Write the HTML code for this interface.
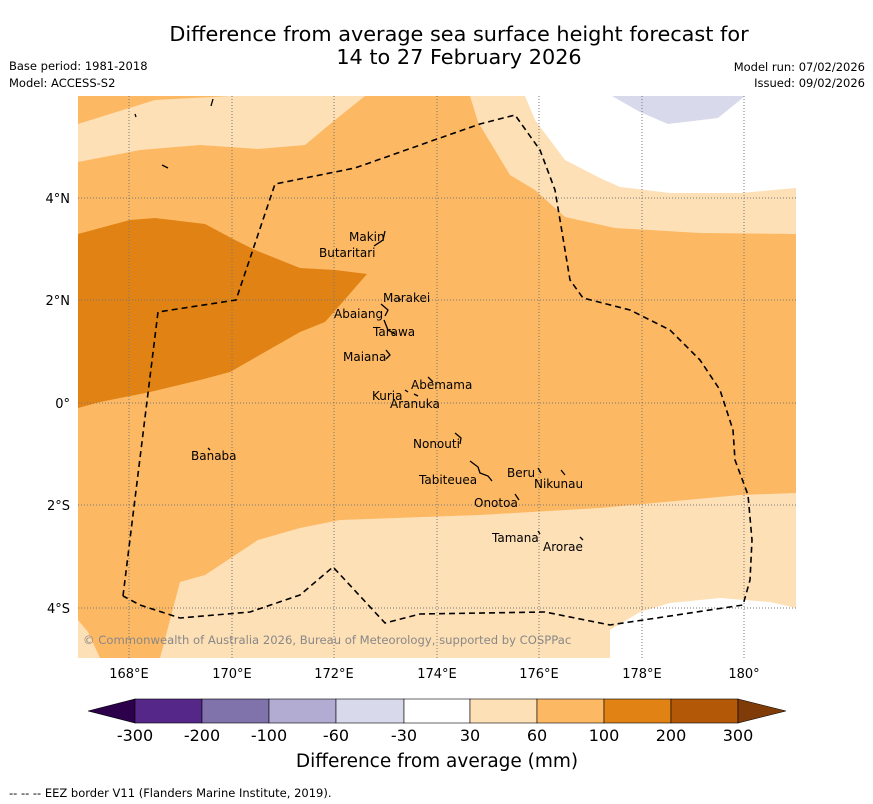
<!DOCTYPE html>
<html><head><meta charset="utf-8"><style>
body{margin:0;background:#fff;font-family:"DejaVu Sans","Liberation Sans",sans-serif;}
svg{display:block}
</style></head><body>
<svg width="873" height="804" viewBox="0 0 873 804" xmlns="http://www.w3.org/2000/svg" font-family="DejaVu Sans, Liberation Sans, sans-serif">
<text x="459" y="41" font-size="20.8" text-anchor="middle">Difference from average sea surface height forecast for</text>
<text x="459" y="64" font-size="20.8" text-anchor="middle">14 to 27 February 2026</text>
<text x="9" y="70" font-size="11.5">Base period: 1981-2018</text>
<text x="9" y="87" font-size="11.5">Model: ACCESS-S2</text>
<text x="865" y="71" font-size="11.5" text-anchor="end">Model run: 07/02/2026</text>
<text x="865" y="87" font-size="11.5" text-anchor="end">Issued: 09/02/2026</text>
<defs><clipPath id="mc"><rect x="78" y="96" width="718" height="562"/></clipPath></defs>
<g clip-path="url(#mc)">
<rect x="78" y="96" width="718" height="562" fill="#fdb863"/>
<polygon fill="#fee0b6" points="78,124 155,100 230,96 365,96 335,120 305,145 258,149 200,145 140,150 78,162"/>
<polygon fill="#fee0b6" points="470,96 478,122 510,175 535,190 565,217 615,228 700,233 796,234 796,96"/>
<polygon fill="#ffffff" points="525,96 535,120 565,160 600,178 620,187 670,193 740,193 796,188 796,96"/>
<polygon fill="#d8daeb" points="612,96 745,96 718,118 668,124 640,112"/>
<polygon fill="#e08214" points="78,234 130,220 155,218 205,224 235,240 255,250 300,268 335,270 367,274 340,305 325,322 300,332 230,372 200,380 150,392 100,402 78,408"/>
<polygon fill="#fee0b6" points="796,493 740,495 600,508 480,515 340,520 300,528 258,540 205,575 180,582 160,658 796,658"/>
<polygon fill="#fee0b6" points="78,620 88,632 100,658 78,658"/>
<polygon fill="#ffffff" points="610,658 610,630 640,612 670,603 720,598 770,602 796,608 796,658"/>
<g stroke="#777" stroke-width="1" stroke-dasharray="1,2">
<line x1="129" y1="96" x2="129" y2="658"/><line x1="232" y1="96" x2="232" y2="658"/><line x1="334" y1="96" x2="334" y2="658"/><line x1="437" y1="96" x2="437" y2="658"/><line x1="539" y1="96" x2="539" y2="658"/><line x1="642" y1="96" x2="642" y2="658"/><line x1="744" y1="96" x2="744" y2="658"/>
<line x1="78" y1="198" x2="796" y2="198"/><line x1="78" y1="300" x2="796" y2="300"/><line x1="78" y1="403" x2="796" y2="403"/><line x1="78" y1="505" x2="796" y2="505"/><line x1="78" y1="608" x2="796" y2="608"/>
</g>
<polyline fill="none" stroke="#000" stroke-width="1.6" stroke-dasharray="6,4" points="123,596 158,312 236,300 275,184 355,168 440,138 480,124 515,115 540,150 555,190 570,280 583,298 630,310 670,330 700,360 720,390 733,430 735,460 748,495 752,540 750,580 743,605 610,625 545,612 420,614 385,623 333,567 300,595 250,612 180,618 140,605 123,596"/>
<g stroke="#000" stroke-width="1.3" fill="none">
<path d="M385,231 L383,240 L374,246"/><path d="M381,304 L388,310 L385,316"/><path d="M384,320 L388,330 L395,334"/><path d="M386,350 L390,355 L386,359"/>
<path d="M428,377 L433,382"/><path d="M405,390 L408,392"/><path d="M414,394 L418,396"/><path d="M455,433 L461,438 L460,444"/>
<path d="M470,461 L478,467 L480,473 L488,476 L492,481"/><path d="M538,468 L541,473"/><path d="M561,470 L565,475"/><path d="M515,494 L519,500"/>
<path d="M538,531 L540,534"/><path d="M580,537 L583,540"/><path d="M208,448 L210,450"/><path d="M213,99 L211,106"/><path d="M135,114 L136,117"/><path d="M162,165 L168,168"/><path d="M398,298 L401,300"/>
</g>
<g font-size="12" fill="#000">
<text x="349" y="241">Makin</text><text x="319" y="257">Butaritari</text><text x="383" y="302">Marakei</text><text x="334" y="318">Abaiang</text><text x="373" y="336">Tarawa</text><text x="343" y="361">Maiana</text><text x="411" y="389">Abemama</text><text x="372" y="400">Kuria</text><text x="390" y="408">Aranuka</text><text x="413" y="448">Nonouti</text><text x="507" y="477">Beru</text><text x="534" y="488">Nikunau</text><text x="419" y="484">Tabiteuea</text><text x="474" y="507">Onotoa</text><text x="492" y="542">Tamana</text><text x="543" y="551">Arorae</text><text x="191" y="460">Banaba</text>
</g>
<text x="83" y="644" font-size="11.6" fill="#888">© Commonwealth of Australia 2026, Bureau of Meteorology, supported by COSPPac</text>
</g>
<g font-size="13" fill="#000">
<text x="70" y="203" text-anchor="end">4°N</text><text x="70" y="305" text-anchor="end">2°N</text><text x="70" y="408" text-anchor="end">0°</text><text x="70" y="510" text-anchor="end">2°S</text><text x="70" y="613" text-anchor="end">4°S</text>
<text x="129" y="678" text-anchor="middle">168°E</text><text x="232" y="678" text-anchor="middle">170°E</text><text x="334" y="678" text-anchor="middle">172°E</text><text x="437" y="678" text-anchor="middle">174°E</text><text x="539" y="678" text-anchor="middle">176°E</text><text x="642" y="678" text-anchor="middle">178°E</text><text x="744" y="678" text-anchor="middle">180°</text>
</g>
<g stroke="#000" stroke-width="0.6">
<polygon points="88,711 135,699 135,723" fill="#2d004b"/>
<rect x="135" y="699" width="67" height="24" fill="#542788"/>
<rect x="202" y="699" width="67" height="24" fill="#8073ac"/>
<rect x="269" y="699" width="67" height="24" fill="#b2abd2"/>
<rect x="336" y="699" width="68" height="24" fill="#d8daeb"/>
<rect x="404" y="699" width="66" height="24" fill="#ffffff"/>
<rect x="470" y="699" width="67" height="24" fill="#fee0b6"/>
<rect x="537" y="699" width="67" height="24" fill="#fdb863"/>
<rect x="604" y="699" width="67" height="24" fill="#e08214"/>
<rect x="671" y="699" width="67" height="24" fill="#b35806"/>
<polygon points="738,699 786,711 738,723" fill="#7f3b08"/>
</g>
<g font-size="16" text-anchor="middle">
<text x="135" y="741">-300</text><text x="202" y="741">-200</text><text x="269" y="741">-100</text><text x="336" y="741">-60</text><text x="404" y="741">-30</text><text x="470" y="741">30</text><text x="537" y="741">60</text><text x="604" y="741">100</text><text x="671" y="741">200</text><text x="738" y="741">300</text>
</g>
<text x="437" y="767" font-size="18.5" text-anchor="middle">Difference from average (mm)</text>
<text x="9" y="797" font-size="11.5">--  --  -- EEZ border V11 (Flanders Marine Institute, 2019).</text>
</svg>
</body></html>
